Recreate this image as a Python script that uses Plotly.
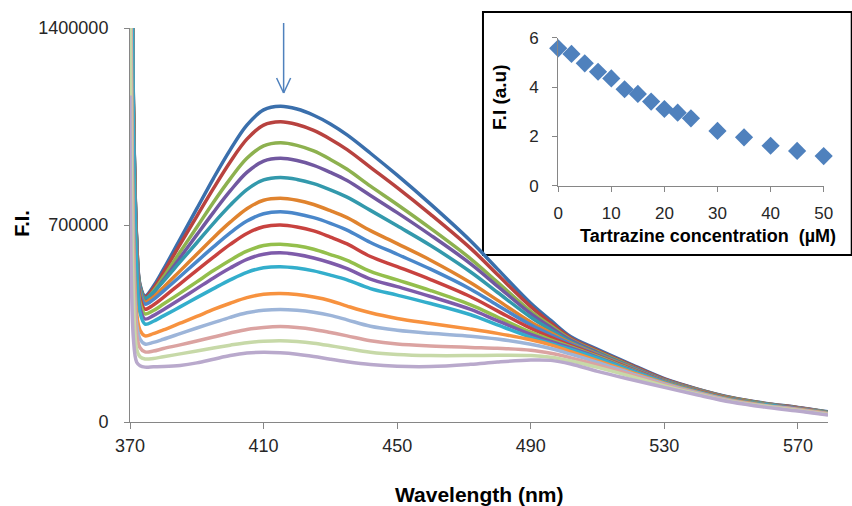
import plotly.graph_objects as go

# ---------------- data (F.I. values in thousands of counts) ----------------
FI_UNIT = 1000

wavelength_nm = [370, 371, 372, 373, 374.5, 377, 380, 385, 390, 395, 400, 405, 410, 415,
                 420, 425, 430, 435, 442, 450, 460, 472, 480, 490, 496, 502, 510, 520,
                 530, 540, 550, 560, 570, 579]

fi_0uM = [2500, 1148, 648, 488, 448, 482, 542, 650, 758, 866, 967, 1055, 1109, 1122, 1112, 1090, 1059, 1020, 955, 877, 774, 643, 544, 422, 361, 303, 258, 205, 154, 117, 87, 67, 52, 36]
fi_2_5uM = [2500, 1144, 644, 484, 444, 475, 531, 631, 731, 830, 924, 1005, 1055, 1067, 1057, 1036, 1005, 968, 905, 833, 738, 617, 524, 410, 352, 298, 254, 202, 152, 116, 86, 66, 51, 35]
fi_5uM = [2500, 1137, 637, 477, 437, 465, 515, 604, 692, 781, 864, 937, 981, 992, 983, 963, 933, 898, 838, 773, 688, 580, 497, 393, 342, 293, 250, 199, 150, 115, 85, 65, 50, 35]
fi_7_5uM = [2500, 1133, 633, 473, 433, 458, 504, 584, 665, 745, 821, 887, 927, 937, 929, 912, 887, 858, 805, 744, 664, 562, 483, 385, 336, 290, 247, 197, 149, 114, 84, 64, 50, 34]
fi_10uM = [2500, 1140, 640, 480, 440, 461, 500, 569, 637, 706, 770, 826, 860, 869, 862, 847, 825, 799, 752, 697, 627, 533, 461, 372, 327, 285, 244, 195, 148, 113, 83, 64, 49, 34]
fi_12_5uM = [2500, 1126, 626, 466, 426, 444, 478, 537, 596, 655, 710, 758, 788, 795, 788, 773, 751, 726, 680, 634, 575, 495, 433, 355, 317, 280, 241, 193, 147, 112, 82, 63, 49, 33]
fi_15uM = [2500, 1119, 619, 459, 419, 435, 465, 517, 570, 622, 672, 714, 740, 747, 740, 726, 706, 682, 638, 596, 543, 472, 415, 345, 310, 277, 239, 191, 146, 111, 81, 63, 48, 33]
fi_17_5uM = [2500, 1101, 601, 441, 401, 416, 443, 491, 539, 586, 631, 670, 694, 700, 693, 679, 657, 633, 588, 552, 506, 445, 395, 333, 301, 272, 236, 189, 144, 110, 81, 62, 48, 32]
fi_20uM = [2500, 1084, 584, 424, 384, 396, 419, 458, 498, 538, 575, 607, 627, 632, 626, 614, 595, 574, 535, 505, 467, 416, 373, 319, 292, 267, 233, 187, 143, 109, 80, 62, 47, 32]
fi_22_5uM = [2500, 1066, 566, 406, 366, 378, 399, 436, 474, 512, 547, 578, 596, 601, 595, 583, 566, 545, 508, 481, 446, 400, 360, 311, 286, 263, 230, 185, 142, 108, 79, 61, 47, 31]
fi_25uM = [2500, 1048, 548, 388, 348, 358, 377, 409, 442, 474, 505, 532, 548, 552, 547, 537, 522, 505, 474, 451, 421, 381, 345, 301, 279, 258, 227, 183, 141, 107, 79, 61, 46, 31]
fi_30uM = [2200, 706, 386, 326, 306, 314, 327, 351, 375, 400, 422, 442, 454, 457, 453, 444, 431, 412, 388, 368, 350, 330, 315, 292, 274, 250, 218, 177, 138, 105, 77, 59, 45, 30]
fi_35uM = [2100, 647, 347, 295, 277, 283, 294, 314, 334, 353, 372, 388, 397, 400, 397, 390, 379, 363, 340, 326, 315, 305, 295, 276, 261, 241, 212, 173, 135, 103, 76, 58, 44, 29]
fi_40uM = [2000, 599, 309, 264, 249, 252, 261, 274, 288, 302, 316, 329, 336, 339, 336, 329, 318, 306, 289, 277, 270, 265, 262, 255, 244, 228, 203, 168, 132, 101, 74, 57, 43, 28]
fi_45uM = [1600, 454, 259, 232, 224, 226, 232, 242, 252, 263, 273, 282, 287, 289, 286, 280, 271, 261, 248, 240, 236, 236, 237, 236, 230, 217, 194, 162, 128, 99, 73, 56, 41, 27]
fi_50uM = [1160, 300, 212, 200, 195, 196, 197, 201, 210, 223, 236, 245, 248, 246, 241, 233, 223, 214, 204, 198, 197, 205, 213, 220, 219, 206, 180, 151, 123, 96, 71, 53, 39, 25]

spectra = [fi_0uM, fi_2_5uM, fi_5uM, fi_7_5uM, fi_10uM, fi_12_5uM, fi_15uM, fi_17_5uM,
           fi_20uM, fi_22_5uM, fi_25uM, fi_30uM, fi_35uM, fi_40uM, fi_45uM, fi_50uM]

# inset data
tartrazine_uM = [0, 2.5, 5, 7.5, 10, 12.5, 15, 17.5, 20, 22.5, 25, 30, 35, 40, 45, 50]
fi_au = [5.57, 5.34, 4.96, 4.62, 4.35, 3.91, 3.72, 3.41, 3.11, 2.96, 2.73, 2.22, 1.96, 1.62, 1.41, 1.20]

# ticks
x_ticks = [370, 410, 450, 490, 530, 570]
x_tick_labels = ["370", "410", "450", "490", "530", "570"]
y_ticks = [0, 700000, 1400000]
y_tick_labels = ["0", "700000", "1400000"]
inset_x_ticks = [0, 10, 20, 30, 40, 50]
inset_y_ticks = [0, 2, 4, 6]

# ---------------- styles ----------------
colors = ["#3A6FAC", "#B8423F", "#8DB14F", "#7158A0", "#3399AC", "#E0832E",
          "#4A87CA", "#C8423F", "#94BF4C", "#7E5BAA", "#33AECC", "#F7923F",
          "#9DB5D9", "#DBA3A1", "#C7D9A8", "#B9A9CC"]
FONT = "Liberation Sans"
AXIS_GREY = "#868686"
TICK_TXT = "#262626"

fig = go.Figure()
for vals, col, conc in zip(spectra, colors, tartrazine_uM):
    fig.add_trace(go.Scatter(
        x=wavelength_nm, y=[v * FI_UNIT for v in vals], mode="lines",
        line=dict(color=col, width=3.5, shape="spline", smoothing=1.0),
        name=f"{conc} µM", showlegend=False, hoverinfo="skip"))

fig.add_trace(go.Scatter(
    x=tartrazine_uM, y=fi_au, mode="markers", xaxis="x2", yaxis="y2",
    marker=dict(symbol="diamond", size=14, color="#4F81BD"),
    cliponaxis=False, showlegend=False))

axis_common = dict(showline=True, linecolor=AXIS_GREY, linewidth=1, ticks="outside",
                   tickcolor=AXIS_GREY, showgrid=False, zeroline=False)

fig.update_layout(
    width=852, height=506, autosize=False,
    margin=dict(l=130, r=24, t=28, b=84),
    paper_bgcolor="white", plot_bgcolor="rgba(0,0,0,0)",
    xaxis=dict(domain=[0, 1], range=[370, 579], tickvals=x_ticks, ticktext=x_tick_labels,
               ticklen=6, ticklabelstandoff=1,
               tickfont=dict(family=FONT, size=18, color=TICK_TXT), **axis_common),
    yaxis=dict(domain=[0, 1], range=[0, 1400000], tickvals=y_ticks, ticktext=y_tick_labels,
               ticklen=5, ticklabelstandoff=12,
               tickfont=dict(family=FONT, size=18, color=TICK_TXT), **axis_common),
    xaxis2=dict(domain=[0.6135, 0.9938], anchor="y2", range=[0, 50], tickvals=inset_x_ticks,
                ticklen=5, ticklabelstandoff=7,
                tickfont=dict(family=FONT, size=17, color=TICK_TXT), **axis_common),
    yaxis2=dict(domain=[0.5997, 0.9754], anchor="x2", range=[0, 6], tickvals=inset_y_ticks,
                ticklen=5, ticklabelstandoff=10,
                tickfont=dict(family=FONT, size=17, color=TICK_TXT), **axis_common),
    shapes=[
        # inset frame
        dict(type="rect", xref="paper", yref="paper", x0=0.5057, x1=1.034, y0=0.4239, y1=1.0406,
             line=dict(color="black", width=2), fillcolor="white", layer="below"),
        # arrow marking the emission maximum
        dict(type="line", xref="x", yref="paper", x0=416, x1=416, y0=1.0127, y1=0.835,
             line=dict(color="#4F81BD", width=1.5)),
        dict(type="line", xref="x", yref="paper", x0=413.9, x1=416, y0=0.873, y1=0.835,
             line=dict(color="#4F81BD", width=1.5)),
        dict(type="line", xref="x", yref="paper", x0=418.1, x1=416, y0=0.873, y1=0.835,
             line=dict(color="#4F81BD", width=1.5)),
    ],
    annotations=[
        dict(text="<b>Wavelength (nm)</b>", xref="paper", yref="paper", x=0.5, y=-0.183,
             showarrow=False, xanchor="center", yanchor="middle",
             font=dict(family=FONT, size=21, color="black")),
        dict(text="<b>F.I.</b>", xref="paper", yref="paper", x=-0.155, y=0.505, textangle=-90,
             showarrow=False, xanchor="center", yanchor="middle",
             font=dict(family=FONT, size=20, color="black")),
        dict(text="<b>F.I (a.u)</b>", xref="paper", yref="paper", x=0.530, y=0.825, textangle=-90,
             showarrow=False, xanchor="center", yanchor="middle",
             font=dict(family=FONT, size=19, color="black")),
        dict(text="<b>Tartrazine concentration  (µM)</b>", xref="paper", yref="paper",
             x=0.8276, y=0.4725, showarrow=False, xanchor="center", yanchor="middle",
             font=dict(family=FONT, size=18, color="black")),
    ],
)

fig.write_html("out.html", config={"displayModeBar": False},
               post_script="document.body.style.margin='0';")
